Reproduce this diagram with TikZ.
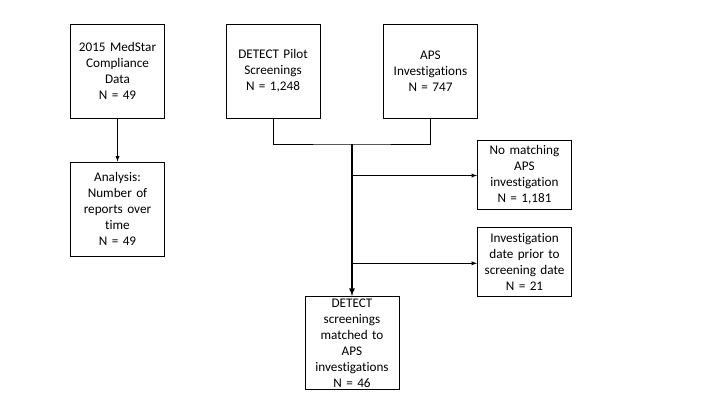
\documentclass[tikz,border=0pt]{standalone}
\usepackage{fontspec}
\setmainfont[Ligatures=NoCommon]{Carlito}
\usepackage{tikz}
\tikzset{>=latex}
\usetikzlibrary{calc,arrows,positioning}
\tikzset{
  % plain boxes of the flow chart
  box/.style={draw, line width=0.9pt, align=center, text width=90pt, inner sep=2pt,
    minimum width=94pt, minimum height=94pt, font=\fontsize{13.2}{16}\selectfont},
  lowbox/.style={box, minimum height=69pt},
}
\begin{document}
\begin{tikzpicture}[x=1pt,y=-1pt]
    \useasboundingbox (0,0) rectangle (720,405);

    \node[box] (medstar) at (117.5,71) {2015 MedStar\\Compliance\\Data\\N = 49};
    \node[box] (analysis) at (117.5,209) {Analysis:\\Number of\\reports over\\time\\N = 49};
    \draw[->, line width=0.9pt] (medstar.south) -- (analysis.north);

    \node[box] (detect) at (273,71) {DETECT Pilot\\Screenings\\N = 1,248};
    \node[box] (aps) at (430.5,71) {APS\\Investigations\\N = 747};

    \node[lowbox] (nomatch) at (524.5,175) {No matching\\APS\\investigation\\N = 1,181};
    \node[lowbox] (prior) at (524.5,261.5) {Investigation\\date prior to\\screening date\\N = 21};
    \node[box, minimum height=93pt] (matched) at (352,343) {DETECT\\screenings\\matched to\\APS\\investigations\\N = 46};

    \coordinate (join) at (352,144);
    \coordinate (split1) at (352,175.5);
    \coordinate (split2) at (352,263.3);

    \draw[line width=0.9pt] (detect.south) |- (join) -| (aps.south);
    \draw[->, line width=1.6pt] (join) -- (matched.north);
    \draw[->, line width=0.9pt] (split1) -- (split1 -| nomatch.west);
    \draw[->, line width=0.9pt] (split2) -- (split2 -| prior.west);
\end{tikzpicture}
\end{document}
